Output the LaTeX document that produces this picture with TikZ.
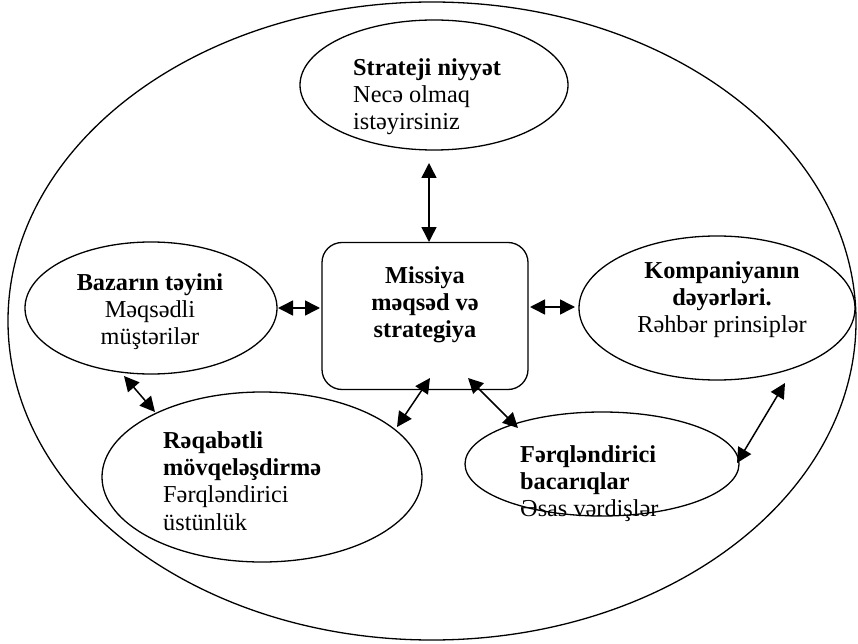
\documentclass[tikz,border=0pt]{standalone}
\usepackage{fontspec}
\setmainfont{Liberation Serif}
\usetikzlibrary{shapes.geometric,arrows.meta}
\tikzset{
  oval/.style={draw, ellipse, line width=1.3pt, inner sep=0pt},
  corebox/.style={draw, rectangle, rounded corners=20pt, line width=1.3pt, inner sep=0pt},
  label/.style={inner sep=0pt, font=\fontsize{24.3}{27.4}\selectfont},
  link/.style={line width=1.5pt, {Triangle[length=15pt,width=15pt]}-{Triangle[length=15pt,width=15pt]}}
}
\begin{document}
\begin{tikzpicture}[x=1pt,y=-1pt]
\useasboundingbox (0,0) rectangle (858,644);
% frame and shapes
\node[oval, minimum width=848pt, minimum height=638pt] (outer) at (432,321) {};
\node[oval, minimum width=268pt, minimum height=130pt] (intent) at (434,85) {};
\node[oval, minimum width=252pt, minimum height=132pt] (market) at (151,308) {};
\node[corebox, minimum width=206pt, minimum height=147pt] (mission) at (425,316) {};
\node[oval, minimum width=276pt, minimum height=144pt] (values) at (717,308) {};
\node[oval, minimum width=320pt, minimum height=170pt] (position) at (262,477) {};
\node[oval, minimum width=274pt, minimum height=104pt] (skills) at (602,464) {};
% texts
\node[label, align=left, anchor=north west] (intentT) at (353,58)
  {\textbf{Strateji niyyət}\\Necə olmaq\\istəyirsiniz};
\node[label, align=center, anchor=north] (marketT) at (150,273)
  {\textbf{Bazarın təyini}\\Məqsədli\\müştərilər};
\node[label, align=center, anchor=north] (missionT) at (425,266)
  {\textbf{Missiya}\\\textbf{məqsəd və}\\\textbf{strategiya}};
\node[label, align=center, anchor=north] (valuesT) at (722,261)
  {\textbf{Kompaniyanın}\\\textbf{dəyərləri.}\\Rəhbər prinsiplər};
\node[label, align=left, anchor=north west] (positionT) at (163,431)
  {\textbf{Rəqabətli}\\\textbf{mövqeləşdirmə}\\Fərqləndirici\\üstünlük};
\node[label, align=left, anchor=north west] (skillsT) at (520,445)
  {\textbf{Fərqləndirici}\\\textbf{bacarıqlar}\\Əsas vərdişlər};
% connector ends
\coordinate (i1) at (429,163);  \coordinate (m1) at (429,242);
\coordinate (k1) at (278,308);  \coordinate (m2) at (320,308);
\coordinate (m3) at (530,307);  \coordinate (v1) at (575,307);
\coordinate (k2) at (124,376);  \coordinate (p1) at (155,412);
\coordinate (m4) at (430,378);  \coordinate (p2) at (397,427);
\coordinate (m5) at (468,378);  \coordinate (s1) at (518,428);
\coordinate (v2) at (785,383);  \coordinate (s2) at (737,463);
% connectors
\draw[link] (i1) -- (m1);
\draw[link] (k1) -- (m2);
\draw[link] (m3) -- (v1);
\draw[link] (k2) -- (p1);
\draw[link] (m4) -- (p2);
\draw[link] (m5) -- (s1);
\draw[link] (v2) -- (s2);
\end{tikzpicture}
\end{document}
